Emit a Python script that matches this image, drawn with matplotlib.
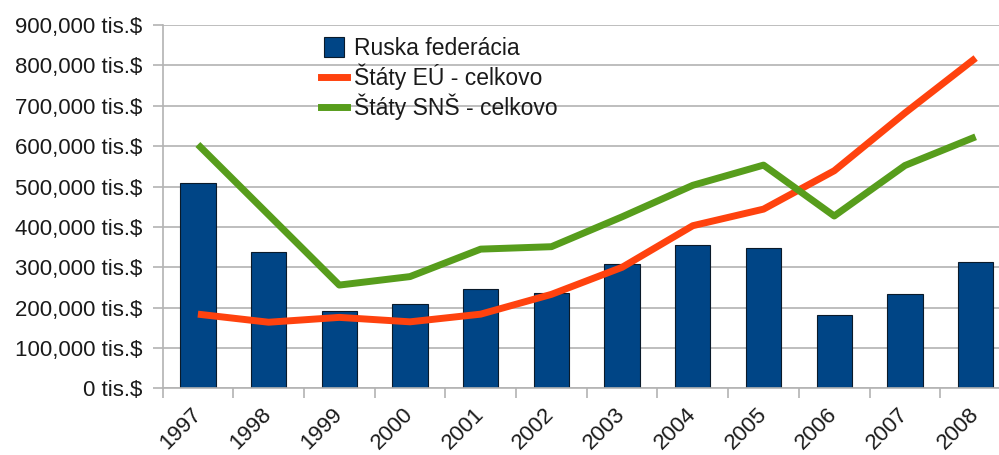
import matplotlib.pyplot as plt
from matplotlib.lines import Line2D
from matplotlib.ticker import FuncFormatter, MultipleLocator
import numpy as np

plt.rcParams['font.family'] = ['Liberation Sans', 'DejaVu Sans']

years = ["1997", "1998", "1999", "2000", "2001", "2002",
         "2003", "2004", "2005", "2006", "2007", "2008"]
rusko = [508000, 337000, 191000, 210000, 247000, 237000,
         307000, 355000, 348000, 181000, 233000, 313000]
eu_spolu = [184000, 164000, 176000, 165000, 184000, 233000,
            300000, 403000, 444000, 539000, 682000, 818000]
sns_spolu = [604000, 430000, 256000, 277000, 345000, 351000,
             425000, 503000, 553000, 427000, 552000, 623000]

blue = "#004586"
orange = "#ff420e"
green = "#579d1c"
grid_c = "#b3b3b3"

x = np.arange(len(years))

fig = plt.figure(figsize=(9.99, 4.55), dpi=100)
ax = fig.add_axes([0.1627, 0.1462, 0.8493, 0.799])

ax.bar(x, rusko, width=0.5, color=blue, edgecolor="#0a1a2a", linewidth=0.8, zorder=2)
ax.plot(x, eu_spolu, color=orange, linewidth=5, zorder=3, solid_capstyle="butt")
ax.plot(x, sns_spolu, color=green, linewidth=5, zorder=3, solid_capstyle="butt")

ax.set_xlim(-0.5, len(years) - 0.5)
ax.set_ylim(0, 900000)
ax.yaxis.set_major_locator(MultipleLocator(100000))
ax.yaxis.set_major_formatter(FuncFormatter(lambda v, p: f"{int(v):,} tis.$"))
ax.grid(axis="y", color=grid_c, linewidth=1.2, zorder=0)
ax.set_axisbelow(True)

ax.set_xticks(x)
ax.set_xticklabels(years, rotation=45, ha="right", rotation_mode="anchor", va="center")
ax.set_xticks(np.arange(-0.5, len(years), 1), minor=True)
ax.tick_params(axis="x", which="major", length=0, pad=16.5, labelsize=16, labelcolor="#1a1a1a")
ax.tick_params(axis="x", which="minor", length=7.5, width=1.2, color=grid_c)
ax.tick_params(axis="y", length=7.5, width=1.2, color=grid_c, pad=7, labelsize=16,
               labelcolor="#1a1a1a")

for s in ["top", "right"]:
    ax.spines[s].set_visible(False)
for s in ["left", "bottom"]:
    ax.spines[s].set_color(grid_c)
    ax.spines[s].set_linewidth(1.2)

handles = [
    Line2D([], [], marker="s", markersize=14, color=blue, markeredgecolor="#0a1a2a",
           markeredgewidth=0.8, linestyle="none"),
    Line2D([], [], color=orange, linewidth=5),
    Line2D([], [], color=green, linewidth=5),
]
labels = ["Ruska federácia", "Štáty EÚ - celkovo", "Štáty SNŠ - celkovo"]
fig.legend(handles, labels, loc="upper left", bbox_to_anchor=(0.3213, 0.918),
           frameon=False, fontsize=16.5, handlelength=1.15, handletextpad=0.3,
           labelspacing=0.14, borderpad=0, borderaxespad=0, labelcolor="#1a1a1a")

fig.savefig("out.png", dpi=100)
